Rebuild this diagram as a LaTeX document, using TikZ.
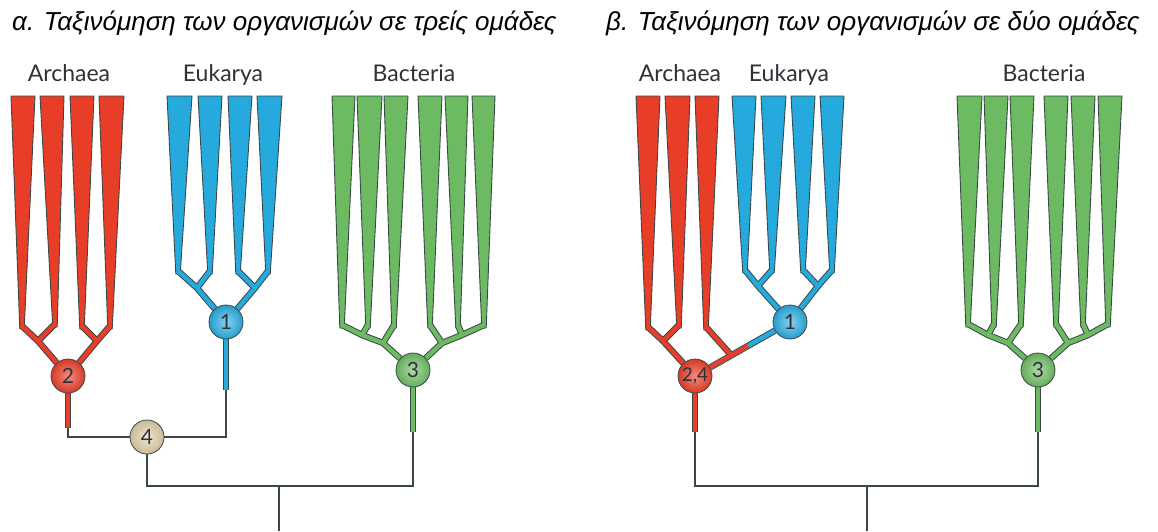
\documentclass[tikz,border=0pt]{standalone}
\usepackage{fontspec}
\setmainfont{Liberation Sans}
\newfontfamily\lblfont{Lato}
\usetikzlibrary{calc}
\pgfdeclarelayer{lo}\pgfdeclarelayer{lw}\pgfdeclarelayer{lf}
\pgfsetlayers{lo,lw,lf,main}
\definecolor{cr}{RGB}{232,62,40}
\definecolor{cb}{RGB}{38,170,222}
\definecolor{cg}{RGB}{108,186,98}
\definecolor{ct}{RGB}{218,202,162}
\definecolor{outl}{RGB}{58,72,72}
\definecolor{txt}{RGB}{45,50,55}
\tikzset{
  nd/.style={circle, draw=outl, line width=0.8pt, minimum size=34pt, inner sep=0pt,
    font=\lblfont\fontsize{21}{21}\selectfont, text=txt},
  ndr/.style={nd, inner color=cr!60!white, outer color=cr!93!black},
  ndb/.style={nd, inner color=cb!55!white, outer color=cb!93!black},
  ndg/.style={nd, inner color=cg!55!white, outer color=cg!93!black},
  ndt/.style={nd, inner color=ct!50!white, outer color=ct!93!black},
  stemo/.style={outl, line width=6.4pt, line join=round},
  stemf/.style={line width=4.4pt, line join=round},
  gline/.style={outl, line width=2.8pt},
  lbl/.style={font=\lblfont\fontsize{23}{23}\selectfont, text=txt, anchor=base},
  ttl/.style={font=\itshape\fontsize{26}{26}\selectfont, anchor=base west, text=black, inner sep=0pt}
}
\newcommand{\stm}[2]{%
  \begin{pgfonlayer}{lo}\draw[stemo] #2;\end{pgfonlayer}%
  \begin{pgfonlayer}{lf}\draw[stemf, #1] #2;\end{pgfonlayer}}
\newcommand{\wdg}[5]{%
  \begin{pgfonlayer}{lw}\filldraw[fill=#1, draw=outl, line width=0.9pt, line join=round]
    (#2,96) -- (#3,96) -- ({#4+2.2},#5) -- ({#4-2.2},#5) -- cycle;\end{pgfonlayer}}
\begin{document}
\begin{tikzpicture}[x=1pt, y=-1pt]
\useasboundingbox (0,0) rectangle (1158,531);
% titles
\node[ttl] (ta) at (12,30) {α. Ταξινόμηση των οργανισμών σε τρείς ομάδες};
\node[ttl] (tb) at (606,30) {β. Ταξινόμηση των οργανισμών σε δύο ομάδες};
% labels
\node[lbl] (la1) at (69,81) {Archaea};
\node[lbl] (le1) at (223,81) {Eukarya};
\node[lbl] (lb1) at (414,81) {Bacteria};
\node[lbl] (la2) at (680,81) {Archaea};
\node[lbl] (le2) at (789,81) {Eukarya};
\node[lbl] (lb2) at (1044,81) {Bacteria};
% nodes panel a
\node[ndr] (n2) at (68,376) {2};
\node[ndb] (n1) at (226,322) {1};
\node[ndg] (n3) at (413,370) {3};
\node[ndt] (n4) at (147,437) {4};
\coordinate (ra) at (279,486);
\coordinate (raB) at (279,531);
% nodes panel b
\node[ndr, font=\lblfont\fontsize{19}{19}\selectfont] (m24) at (695,376) {2,4};
\node[ndb] (m1) at (790,322) {1};
\node[ndg] (m3) at (1038,370) {3};
\coordinate (rb) at (867,486);
\coordinate (rbB) at (867,531);

% ---------- panel a: Archaea
\wdg{cr}{11}{35}{22}{329}
\wdg{cr}{40}{64}{55}{327}
\wdg{cr}{70}{94}{82}{329}
\wdg{cr}{99}{124}{110}{329}
\stm{cr}{(22,326) -- (38,341) -- (n2)}
\stm{cr}{(55,324) -- (38,341)}
\stm{cr}{(82,326) -- (97,341) -- (n2)}
\stm{cr}{(110,326) -- (97,341)}
% Eukarya
\wdg{cb}{167}{192}{178}{274}
\wdg{cb}{198}{222}{210}{274}
\wdg{cb}{228}{252}{238}{274}
\wdg{cb}{257}{282}{268}{274}
\stm{cb}{(178,271) -- (197,288) -- (n1)}
\stm{cb}{(210,271) -- (197,288)}
\stm{cb}{(238,271) -- (255,288) -- (n1)}
\stm{cb}{(268,271) -- (255,288)}
% Bacteria
\wdg{cg}{332}{355}{342}{328}
\wdg{cg}{357}{382}{368}{328}
\wdg{cg}{384}{408}{394}{328}
\wdg{cg}{418}{442}{430}{328}
\wdg{cg}{445}{468}{458}{328}
\wdg{cg}{472}{495}{484}{328}
\stm{cg}{(342,325) -- (362,335) -- (383,343) -- (n3)}
\stm{cg}{(368,325) -- (362,335)}
\stm{cg}{(394,325) -- (383,343)}
\stm{cg}{(484,325) -- (462,335) -- (442,343) -- (n3)}
\stm{cg}{(458,325) -- (462,335)}
\stm{cg}{(430,325) -- (442,343)}
% lower connectors a
\stm{cr}{(n2) -- (68,428)}
\stm{cb}{(n1) -- (226,390)}
\stm{cg}{(n3) -- (413,432)}
\begin{pgfonlayer}{lo}
\draw[gline] (68,425) |- (n4);
\draw[gline] (226,387) |- (n4);
\draw[gline] (n4) |- (ra) -| (413,429);
\draw[gline] (ra) -- (raB);
\end{pgfonlayer}

% ---------- panel b: Archaea
\wdg{cr}{636}{660}{648}{330}
\wdg{cr}{665}{690}{679}{328}
\wdg{cr}{695}{719}{706}{330}
\stm{cr}{(648,327) -- (663,341) -- (m24)}
\stm{cr}{(679,325) -- (663,341)}
\stm{cr}{(706,327) -- (732,356)}
\stm{cb}{(m24) -- (m1)}
\begin{pgfonlayer}{lf}\draw[stemf, cr] (m24) -- ($(m24)!0.56!(m1)$);\end{pgfonlayer}
% Eukarya
\wdg{cb}{732}{756}{745}{273}
\wdg{cb}{761}{786}{772}{273}
\wdg{cb}{791}{815}{803}{273}
\wdg{cb}{820}{844}{832}{273}
\stm{cb}{(745,270) -- (758,286) -- (m1)}
\stm{cb}{(772,270) -- (758,286)}
\stm{cb}{(803,270) -- (818,286) -- (m1)}
\stm{cb}{(832,270) -- (818,286)}
% Bacteria
\wdg{cg}{957}{982}{968}{327}
\wdg{cg}{984}{1008}{994}{327}
\wdg{cg}{1010}{1034}{1021}{327}
\wdg{cg}{1044}{1068}{1056}{327}
\wdg{cg}{1071}{1095}{1083}{327}
\wdg{cg}{1098}{1122}{1108}{327}
\stm{cg}{(968,324) -- (988,335) -- (1008,343) -- (m3)}
\stm{cg}{(994,324) -- (988,335)}
\stm{cg}{(1021,324) -- (1008,343)}
\stm{cg}{(1108,324) -- (1088,335) -- (1068,343) -- (m3)}
\stm{cg}{(1083,324) -- (1088,335)}
\stm{cg}{(1056,324) -- (1068,343)}
% lower connectors b
\stm{cr}{(m24) -- (695,432)}
\stm{cg}{(m3) -- (1038,432)}
\begin{pgfonlayer}{lo}
\draw[gline] (695,429) |- (rb) -| (1038,429);
\draw[gline] (rb) -- (rbB);
\end{pgfonlayer}
\end{tikzpicture}
\end{document}
